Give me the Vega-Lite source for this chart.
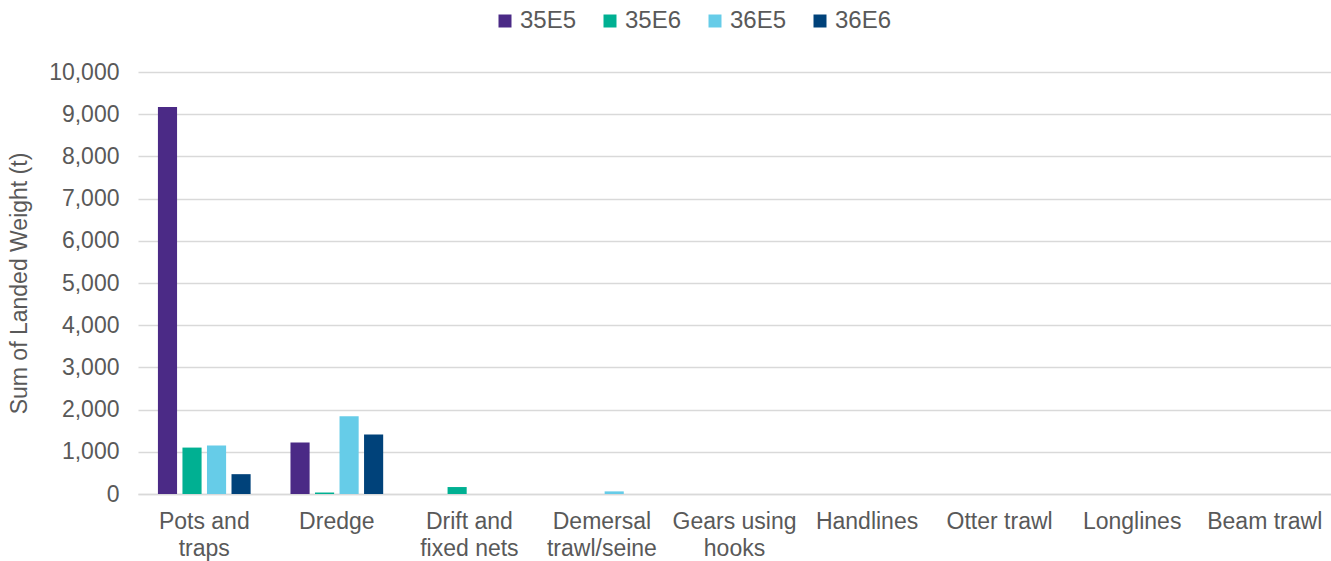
{
  "$schema": "https://vega.github.io/schema/vega-lite/v6.json",
  "width": 1193,
  "height": 422,
  "autosize": {"type": "none"},
  "padding": {"left": 138, "top": 72, "right": 0, "bottom": 67},
  "background": "white",
  "config": {
    "view": {"stroke": null},
    "font": "Liberation Sans",
    "axis": {"labelFont": "Liberation Sans", "titleFont": "Liberation Sans"},
    "legend": {"labelFont": "Liberation Sans"}
  },
  "data": {
    "values": [
      {"gear": "Pots and traps", "rect": "35E5", "weight": 9170},
      {"gear": "Pots and traps", "rect": "35E6", "weight": 1100},
      {"gear": "Pots and traps", "rect": "36E5", "weight": 1150},
      {"gear": "Pots and traps", "rect": "36E6", "weight": 470},
      {"gear": "Dredge", "rect": "35E5", "weight": 1220},
      {"gear": "Dredge", "rect": "35E6", "weight": 35},
      {"gear": "Dredge", "rect": "36E5", "weight": 1840},
      {"gear": "Dredge", "rect": "36E6", "weight": 1410},
      {"gear": "Drift and fixed nets", "rect": "35E5", "weight": 0},
      {"gear": "Drift and fixed nets", "rect": "35E6", "weight": 165},
      {"gear": "Drift and fixed nets", "rect": "36E5", "weight": 0},
      {"gear": "Drift and fixed nets", "rect": "36E6", "weight": 0},
      {"gear": "Demersal trawl/seine", "rect": "35E5", "weight": 0},
      {"gear": "Demersal trawl/seine", "rect": "35E6", "weight": 0},
      {"gear": "Demersal trawl/seine", "rect": "36E5", "weight": 62},
      {"gear": "Demersal trawl/seine", "rect": "36E6", "weight": 0},
      {"gear": "Gears using hooks", "rect": "35E5", "weight": 0},
      {"gear": "Gears using hooks", "rect": "35E6", "weight": 0},
      {"gear": "Gears using hooks", "rect": "36E5", "weight": 0},
      {"gear": "Gears using hooks", "rect": "36E6", "weight": 0},
      {"gear": "Handlines", "rect": "35E5", "weight": 0},
      {"gear": "Handlines", "rect": "35E6", "weight": 0},
      {"gear": "Handlines", "rect": "36E5", "weight": 0},
      {"gear": "Handlines", "rect": "36E6", "weight": 0},
      {"gear": "Otter trawl", "rect": "35E5", "weight": 0},
      {"gear": "Otter trawl", "rect": "35E6", "weight": 0},
      {"gear": "Otter trawl", "rect": "36E5", "weight": 0},
      {"gear": "Otter trawl", "rect": "36E6", "weight": 0},
      {"gear": "Longlines", "rect": "35E5", "weight": 0},
      {"gear": "Longlines", "rect": "35E6", "weight": 0},
      {"gear": "Longlines", "rect": "36E5", "weight": 0},
      {"gear": "Longlines", "rect": "36E6", "weight": 0},
      {"gear": "Beam trawl", "rect": "35E5", "weight": 0},
      {"gear": "Beam trawl", "rect": "35E6", "weight": 0},
      {"gear": "Beam trawl", "rect": "36E5", "weight": 0},
      {"gear": "Beam trawl", "rect": "36E6", "weight": 0}
    ]
  },
  "mark": {"type": "bar"},
  "encoding": {
    "x": {
      "field": "gear",
      "type": "nominal",
      "sort": null,
      "scale": {"paddingInner": 0.26, "paddingOuter": 0.13},
      "axis": {
        "title": null,
        "labelAngle": 0,
        "labelFontSize": 23,
        "labelColor": "#595959",
        "labelPadding": 16,
        "labelLineHeight": 27,
        "labelExpr": "datum.value == 'Pots and traps' ? ['Pots and', 'traps'] : datum.value == 'Drift and fixed nets' ? ['Drift and', 'fixed nets'] : datum.value == 'Demersal trawl/seine' ? ['Demersal', 'trawl/seine'] : datum.value == 'Gears using hooks' ? ['Gears using', 'hooks'] : datum.label",
        "ticks": false,
        "domainColor": "#d9d9d9",
        "domainWidth": 1.5,
        "grid": false
      }
    },
    "xOffset": {
      "field": "rect",
      "type": "nominal",
      "scale": {"paddingInner": 0.22, "paddingOuter": 0.11}
    },
    "y": {
      "field": "weight",
      "type": "quantitative",
      "scale": {"domain": [0, 10000], "nice": false},
      "axis": {
        "title": "Sum of Landed Weight (t)",
        "titleFontSize": 23,
        "titleFontWeight": "normal",
        "titleColor": "#595959",
        "titlePadding": 17,
        "values": [0, 1000, 2000, 3000, 4000, 5000, 6000, 7000, 8000, 9000, 10000],
        "format": ",.0f",
        "labelFontSize": 23,
        "labelColor": "#595959",
        "labelPadding": 19,
        "ticks": false,
        "domain": false,
        "gridColor": "#d9d9d9",
        "gridWidth": 1.3
      }
    },
    "color": {
      "field": "rect",
      "type": "nominal",
      "scale": {
        "domain": ["35E5", "35E6", "36E5", "36E6"],
        "range": ["#4B2A86", "#00B092", "#66CCE8", "#00427A"]
      },
      "legend": {
        "title": null,
        "orient": "none",
        "direction": "horizontal",
        "legendX": 355,
        "legendY": -63,
        "symbolType": "square",
        "symbolSize": 169,
        "symbolStrokeWidth": 0,
        "labelFontSize": 24,
        "labelColor": "#595959",
        "labelOffset": 3,
        "columnPadding": 21
      }
    }
  }
}
